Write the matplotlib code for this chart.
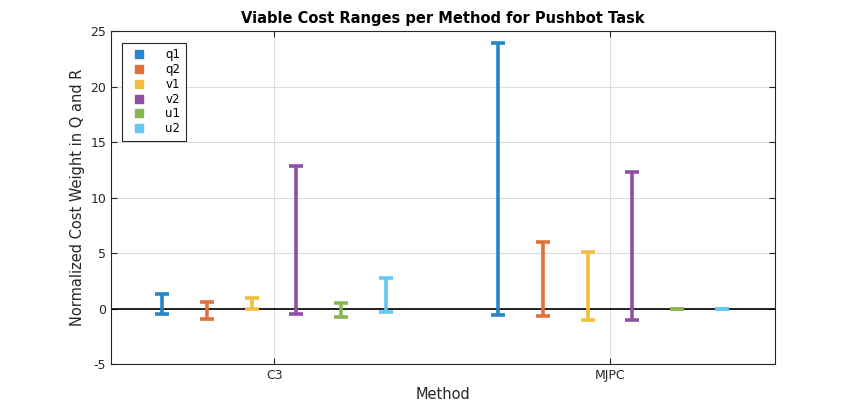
import numpy as np
import matplotlib.pyplot as plt
from matplotlib.lines import Line2D

plt.rcParams["axes.unicode_minus"] = False

# viable ranges (low / high) per cost weight, for each method
methods = ["C3", "MJPC"]
params = ["q1", "q2", "v1", "v2", "u1", "u2"]
low_c3 = [-0.5, -0.95, 0.0, -0.45, -0.75, -0.3]
high_c3 = [1.35, 0.6, 0.95, 12.85, 0.5, 2.75]
low_mjpc = [-0.6, -0.7, -1.05, -1.05, 0.0, 0.0]
high_mjpc = [23.95, 6.0, 5.1, 12.3, 0.0, 0.0]

colors = ["#2586c8", "#e0703c", "#f2be40", "#8e50a0", "#88b650", "#64c8f0"]

lows = np.array([low_c3, low_mjpc])
highs = np.array([high_c3, high_mjpc])
xc = np.arange(1, len(methods) + 1)
offsets = (np.arange(len(params)) - 2.5) * 0.133

fig = plt.figure(figsize=(8.55, 4.09), dpi=100)
ax = fig.add_axes([0.13, 0.11, 0.776, 0.814])

ax.axhline(0, color="black", lw=1.2, zorder=1)

for i, p in enumerate(params):
    lo = lows[:, i]
    hi = highs[:, i]
    mid = (lo + hi) / 2
    half = (hi - lo) / 2
    ax.errorbar(xc + offsets[i], mid, yerr=half, fmt="none", ecolor=colors[i],
                elinewidth=2.6, capsize=5, capthick=2.6, zorder=3)

ax.set_xlim(0.515, 2.49)
ax.set_ylim(-5, 25)
ax.set_xticks(xc)
ax.set_xticklabels(methods)
ax.set_yticks(np.arange(-5, 26, 5))
ax.grid(True, color="#dcdcdc", lw=0.8)
ax.set_axisbelow(True)
ax.tick_params(direction="in", top=True, right=True, labelsize=9, colors="#262626",
               length=4)
for s in ax.spines.values():
    s.set_color("#262626")
    s.set_linewidth(0.8)

ax.set_xlabel("Method", fontsize=10.5, color="#262626")
ax.set_ylabel("Normalized Cost Weight in Q and R", fontsize=10.5, color="#262626")
ax.set_title("Viable Cost Ranges per Method for Pushbot Task", fontsize=10.5,
             fontweight="bold")

handles = [Line2D([], [], marker="s", ls="none", color=c, markersize=5.5) for c in colors]
leg = ax.legend(handles, params, loc="upper left", fontsize=8.5, fancybox=False,
                edgecolor="#262626", framealpha=1, handletextpad=1.2,
                labelspacing=0.15, borderpad=0.45, borderaxespad=0,
                bbox_to_anchor=(0.0166, 0.964))
leg.get_frame().set_linewidth(0.8)

fig.savefig("out.png", dpi=100)
